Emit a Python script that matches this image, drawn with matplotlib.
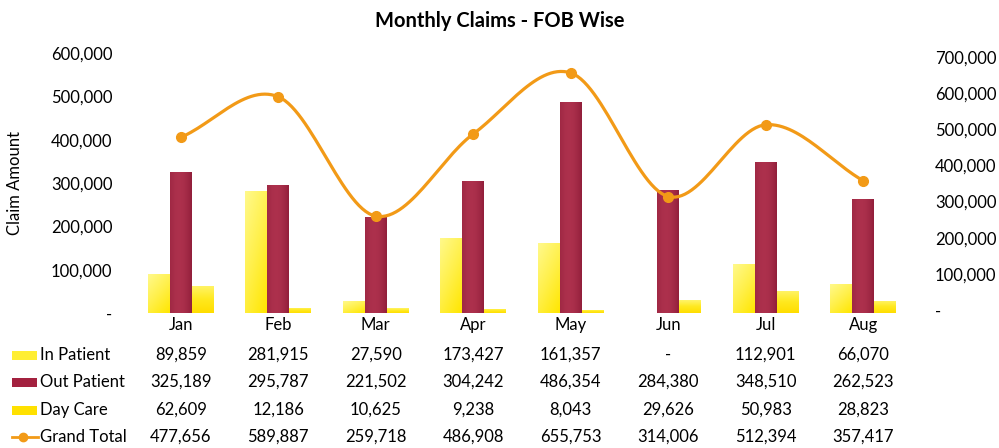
import numpy as np
import matplotlib
matplotlib.use("Agg")
import matplotlib.pyplot as plt
from matplotlib.transforms import blended_transform_factory
from matplotlib.patches import Rectangle
from matplotlib.lines import Line2D
from matplotlib.colors import LinearSegmentedColormap

months = ["Jan", "Feb", "Mar", "Apr", "May", "Jun", "Jul", "Aug"]
in_patient = [89859, 281915, 27590, 173427, 161357, 0, 112901, 66070]
out_patient = [325189, 295787, 221502, 304242, 486354, 284380, 348510, 262523]
day_care = [62609, 12186, 10625, 9238, 8043, 29626, 50983, 28823]
grand_total = [477656, 589887, 259718, 486908, 655753, 314006, 512394, 357417]
left_ticks = [0, 100000, 200000, 300000, 400000, 500000, 600000]
right_ticks = [0, 100000, 200000, 300000, 400000, 500000, 600000, 700000]

FONT = "Lato"
plt.rcParams['font.family'] = [FONT, 'DejaVu Sans']

c_in = "#FFEE33"
c_out = "#A3213F"
c_day = "#FFE100"
c_line = "#F29A17"

W, H = 999, 448
fig = plt.figure(figsize=(W / 100, H / 100), dpi=100)
ax_left, ax_right_px, ax_top, ax_bot = 132, 912, 53, 313
ax = fig.add_axes([ax_left / W, 1 - ax_bot / H, (ax_right_px - ax_left) / W, (ax_bot - ax_top) / H])

x = np.arange(len(months))
bw = 0.225
b_in = ax.bar(x - bw, in_patient, bw, color=c_in, edgecolor="none", zorder=2)
b_out = ax.bar(x, out_patient, bw, color=c_out, edgecolor="none", zorder=2)
b_day = ax.bar(x + bw, day_care, bw, color=c_day, edgecolor="none", zorder=2)

# gradient fills for the bars
def grad_fill(bars, img, cmap):
    for b in bars:
        if b.get_height() <= 0:
            continue
        x0, y0 = b.get_x(), b.get_y()
        im = ax.imshow(img, cmap=cmap, aspect="auto", origin="lower", vmin=0, vmax=1,
                       extent=[x0, x0 + b.get_width(), y0, y0 + b.get_height()],
                       zorder=2.1, interpolation="bicubic")
        im.set_clip_path(b)

N = 64
hh = np.tile(np.linspace(0, 1, N)[None, :], (N, 1))
vv = np.tile(np.linspace(0, 1, N)[:, None], (1, N))
cm_in = LinearSegmentedColormap.from_list("in", ["#FFE600", "#FFF04A", "#FFF98C"])
cm_day = LinearSegmentedColormap.from_list("day", ["#FFDD00", "#FFE91F", "#FFF46A"])
cm_out = LinearSegmentedColormap.from_list("out", ["#8C1B37", "#B0334F"])
grad_fill(b_in, vv * 0.6 + (1 - hh) * 0.4, cm_in)
grad_fill(b_out, np.sin(np.pi * (0.15 + 0.85 * hh)) ** 0.8 * 0.8 + 0.1, cm_out)
grad_fill(b_day, vv, cm_day)
ax.set_xlim(-0.5, len(months) - 0.5)
ax.set_ylim(0, 600000)

ax.set_yticks(left_ticks)
ax.set_yticklabels(["-" if v == 0 else f"{v:,.0f}" for v in left_ticks], fontsize=12)
ax.set_xticks(x)
ax.set_xticklabels(months, fontsize=12)
ax.tick_params(axis="y", length=0, pad=14)
ax.tick_params(axis="x", length=0, pad=3)
for s in ax.spines.values():
    s.set_visible(False)
fig.text(15 / W, 1 - 183 / H, "Claim Amount", rotation=90, ha="center", va="center", fontsize=12)

ax2 = ax.twinx()
per_px = 700000 / 259.0
ax2.set_ylim(-3 * per_px, 700000 + 4 * per_px)
ax2.set_yticks(right_ticks)
ax2.set_yticklabels(["-" if v == 0 else f"{v:,.0f}" for v in right_ticks], fontsize=12)
ax2.tick_params(axis="y", length=0, pad=16.5)
for s in ax2.spines.values():
    s.set_visible(False)

# smoothed line (Catmull-Rom through data points)
px = x.astype(float)
py = np.array(grand_total, dtype=float)
P = np.column_stack([px, py])
P = np.vstack([P[0] - (P[1] - P[0]), P, P[-1] + (P[-1] - P[-2])])
xs, ys = [], []
for i in range(1, len(P) - 2):
    p0, p1, p2, p3 = P[i - 1], P[i], P[i + 1], P[i + 2]
    t = np.linspace(0, 1, 30)[:, None]
    seg = 0.5 * ((2 * p1) + (-p0 + p2) * t + (2 * p0 - 5 * p1 + 4 * p2 - p3) * t ** 2 + (-p0 + 3 * p1 - 3 * p2 + p3) * t ** 3)
    xs.extend(seg[:, 0]); ys.extend(seg[:, 1])
ax2.plot(xs, ys, color=c_line, linewidth=2.3, zorder=3)
ax2.plot(px, py, "o", color=c_line, markersize=7, zorder=4)

fig.text(0.5, 1 - 21 / H, "Monthly Claims - FOB Wise", ha="center", va="center",
         fontsize=14.5, fontweight="bold")

# data table
tr = blended_transform_factory(ax.transData, fig.transFigure)
rows = [("In Patient", in_patient, "rect", c_in, 355),
        ("Out Patient", out_patient, "rect", c_out, 382),
        ("Day Care", day_care, "rect", c_day, 410),
        ("Grand Total", grand_total, "line", c_line, 437)]
for label, vals, kind, col, ypx in rows:
    yf = 1 - ypx / H
    fig.text(40 / W, yf, label, ha="left", va="center", fontsize=12)
    if kind == "rect":
        fig.patches.append(Rectangle((12 / W, yf - 5 / H), 25 / W, 9 / H, transform=fig.transFigure,
                                     facecolor=col, edgecolor="none"))
    else:
        fig.lines.append(Line2D([12 / W, 38 / W], [yf, yf], transform=fig.transFigure, color=col, linewidth=2))
        fig.lines.append(Line2D([23 / W], [yf], transform=fig.transFigure, color=col, marker="o", markersize=6))
    for xi, v in zip(x, vals):
        ax.text(xi, yf, "-" if v == 0 else f"{v:,.0f}", transform=tr, ha="center", va="center", fontsize=12)

fig.savefig("out.png", dpi=100)
